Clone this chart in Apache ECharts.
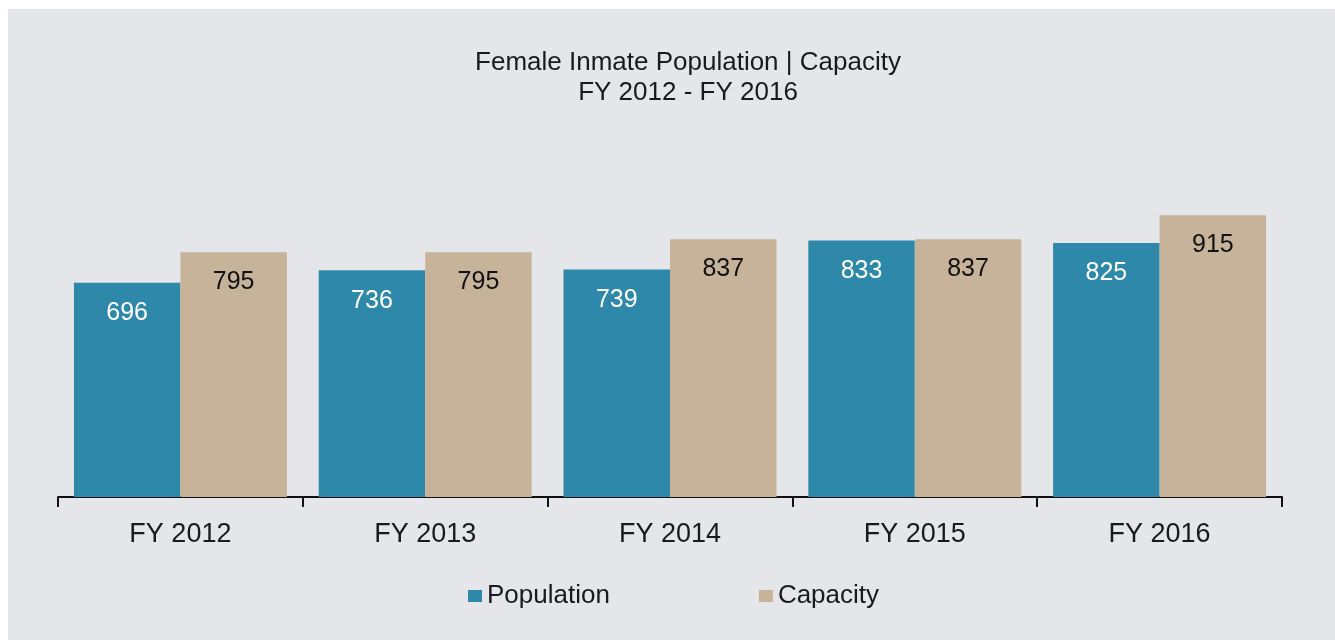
<!DOCTYPE html>
<html>
<head>
<meta charset="utf-8">
<script src="https://cdn.jsdelivr.net/npm/echarts@6/dist/echarts.min.js"></script>
<style>
  html, body { margin: 0; padding: 0; background: #fff; }
  #chart { width: 1335px; height: 640px; }
</style>
</head>
<body>
<div id="chart"></div>
<script>
// data
const categories = ['FY 2012', 'FY 2013', 'FY 2014', 'FY 2015', 'FY 2016'];
const population = [696, 736, 739, 833, 825];
const capacity = [795, 795, 837, 837, 915];

const chart = echarts.init(document.getElementById('chart'));

const font = '"Liberation Sans", Arial, sans-serif';

chart.setOption({
  backgroundColor: '#fff',
  animation: false,
  // gray panel with a thin white margin at top/left
  graphic: [{
    type: 'rect',
    z: -10,
    shape: { x: 8, y: 9, width: 1327, height: 631 },
    style: { fill: '#e4e6ea' },
    silent: true
  }],
  title: {
    text: 'Female Inmate Population | Capacity\nFY 2012 - FY 2016',
    left: 683,
    textAlign: 'center',
    top: 43,
    textStyle: {
      fontFamily: font,
      fontSize: 26,
      fontWeight: 'normal',
      color: '#1a1a1a',
      lineHeight: 30
    }
  },
  legend: {
    left: 463,
    top: 578,
    itemWidth: 14,
    itemHeight: 12,
    itemGap: 149,
    icon: 'rect',
    textStyle: { fontFamily: font, fontSize: 26, color: '#1a1a1a' },
    data: ['Population', 'Capacity']
  },
  grid: { left: 58, right: 53, top: 189, bottom: 143 },
  xAxis: {
    type: 'category',
    data: categories,
    axisLine: { lineStyle: { color: '#111', width: 2 } },
    axisTick: { show: true, length: 10, lineStyle: { color: '#111', width: 2 } },
    axisLabel: { fontFamily: font, fontSize: 27, color: '#1a1a1a', margin: 24 }
  },
  yAxis: {
    type: 'value',
    min: 0,
    max: 1000,
    show: false,
    splitLine: { show: false }
  },
  series: [
    {
      name: 'Population',
      type: 'bar',
      data: population,
      barGap: '0%',
      barCategoryGap: '13%',
      itemStyle: { color: '#2e88a9' },
      label: {
        show: true,
        position: 'insideTop',
        distance: 18,
        fontFamily: font,
        fontSize: 25,
        color: '#fff'
      }
    },
    {
      name: 'Capacity',
      type: 'bar',
      data: capacity,
      itemStyle: { color: '#c7b39a' },
      label: {
        show: true,
        position: 'insideTop',
        distance: 17,
        fontFamily: font,
        fontSize: 25,
        color: '#111'
      }
    }
  ]
});
</script>
</body>
</html>
